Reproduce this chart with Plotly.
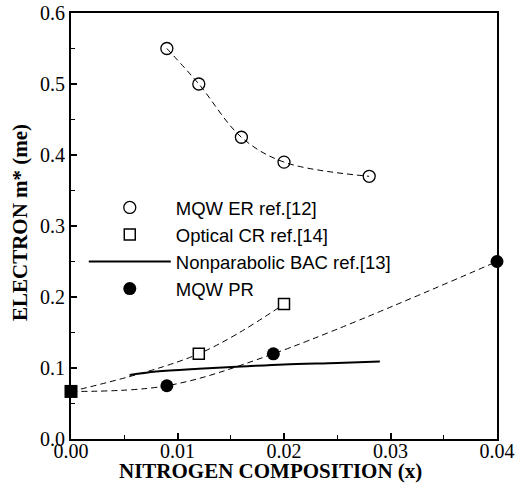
import plotly.graph_objects as go

# MQW ER ref.[12] (open circles)
er_x = [0.009, 0.012, 0.016, 0.020, 0.028]
er_y = [0.550, 0.500, 0.425, 0.390, 0.370]

# Optical CR ref.[14] (open squares)
cr_x = [0.012, 0.020]
cr_y = [0.120, 0.190]

# GaAs reference point (filled square)
gaas_x = [0.0]
gaas_y = [0.067]

# Nonparabolic BAC ref.[13] (solid line)
bac_x = [0.0055, 0.008, 0.012, 0.016, 0.020, 0.025, 0.029]
bac_y = [0.090, 0.095, 0.099, 0.102, 0.105, 0.107, 0.109]

# MQW PR (filled circles)
pr_x = [0.009, 0.019, 0.040]
pr_y = [0.075, 0.120, 0.250]

x_ticks = [0, 0.01, 0.02, 0.03, 0.04]
x_labels = ["0.00", "0.01", "0.02", "0.03", "0.04"]
y_ticks = [0, 0.1, 0.2, 0.3, 0.4, 0.5, 0.6]
y_labels = ["0.0", "0.1", "0.2", "0.3", "0.4", "0.5", "0.6"]

fig = go.Figure()

dash_line = dict(color="black", width=1, dash="6px,4px", shape="spline", smoothing=1.0)

# dashed guide curves
fig.add_trace(go.Scatter(x=er_x, y=er_y, mode="lines", line=dash_line, showlegend=False, hoverinfo="skip"))
fig.add_trace(go.Scatter(x=gaas_x + cr_x, y=gaas_y + cr_y, mode="lines", line=dash_line, showlegend=False, hoverinfo="skip"))
fig.add_trace(go.Scatter(x=gaas_x + pr_x, y=gaas_y + pr_y, mode="lines", line=dash_line, showlegend=False, hoverinfo="skip"))

fig.add_trace(go.Scatter(x=er_x, y=er_y, mode="markers", name="MQW ER ref.[12]",
                         marker=dict(symbol="circle-open", size=12, color="black", line=dict(width=1.3))))
fig.add_trace(go.Scatter(x=cr_x, y=cr_y, mode="markers", name="Optical CR ref.[14]",
                         marker=dict(symbol="square", size=11, color="white", line=dict(width=1.5, color="black"))))
fig.add_trace(go.Scatter(x=bac_x, y=bac_y, mode="lines", name="Nonparabolic BAC ref.[13]",
                         line=dict(color="black", width=2, shape="spline")))
fig.add_trace(go.Scatter(x=pr_x, y=pr_y, mode="markers", name="MQW PR",
                         marker=dict(symbol="circle", size=13, color="black"), cliponaxis=False))
fig.add_trace(go.Scatter(x=gaas_x, y=gaas_y, mode="markers", showlegend=False,
                         marker=dict(symbol="square", size=13, color="black"), cliponaxis=False))

serif = "Liberation Serif, Times New Roman, serif"

fig.update_layout(
    width=515, height=485,
    margin=dict(l=71, r=18, t=13, b=46),
    paper_bgcolor="white", plot_bgcolor="white",
    font=dict(family=serif, color="black"),
    legend=dict(x=0.03, y=0.587, xanchor="left", yanchor="top",
                font=dict(family="Liberation Sans, Arial, sans-serif", size=18.5, color="black"),
                bgcolor="rgba(0,0,0,0)", itemwidth=82, tracegroupgap=0),
    xaxis=dict(range=[0, 0.04], tickvals=x_ticks, ticktext=x_labels,
               ticks="inside", ticklen=6, tickwidth=1.5, tickcolor="black",
               minor=dict(ticks="inside", ticklen=4, tickwidth=1.2, tickcolor="black", dtick=0.005),
               showline=True, linecolor="black", linewidth=2, mirror=True,
               showgrid=False, zeroline=False, automargin=False, ticklabelstandoff=-7,
               tickfont=dict(family=serif, size=20)),
    yaxis=dict(range=[0, 0.6], tickvals=y_ticks, ticktext=y_labels,
               ticks="inside", ticklen=6, tickwidth=1.5, tickcolor="black",
               minor=dict(ticks="inside", ticklen=4, tickwidth=1.2, tickcolor="black", dtick=0.05),
               showline=True, linecolor="black", linewidth=2, mirror=True,
               showgrid=False, zeroline=False, automargin=False,
               tickfont=dict(family=serif, size=20)),
    annotations=[
        dict(text="<b>NITROGEN COMPOSITION (x)</b>", xref="paper", yref="paper",
             x=0.469, y=-0.0755, xanchor="center", yanchor="middle", showarrow=False,
             font=dict(family=serif, size=21, color="black")),
        dict(text="<b>ELECTRON m* (me)</b>", xref="paper", yref="paper", textangle=-90,
             x=-0.12, y=0.509, xanchor="center", yanchor="middle", showarrow=False,
             font=dict(family=serif, size=21, color="black")),
    ],
)

fig.write_html("out.html", config={"displayModeBar": False},
               post_script="document.body.style.margin='0px';")
